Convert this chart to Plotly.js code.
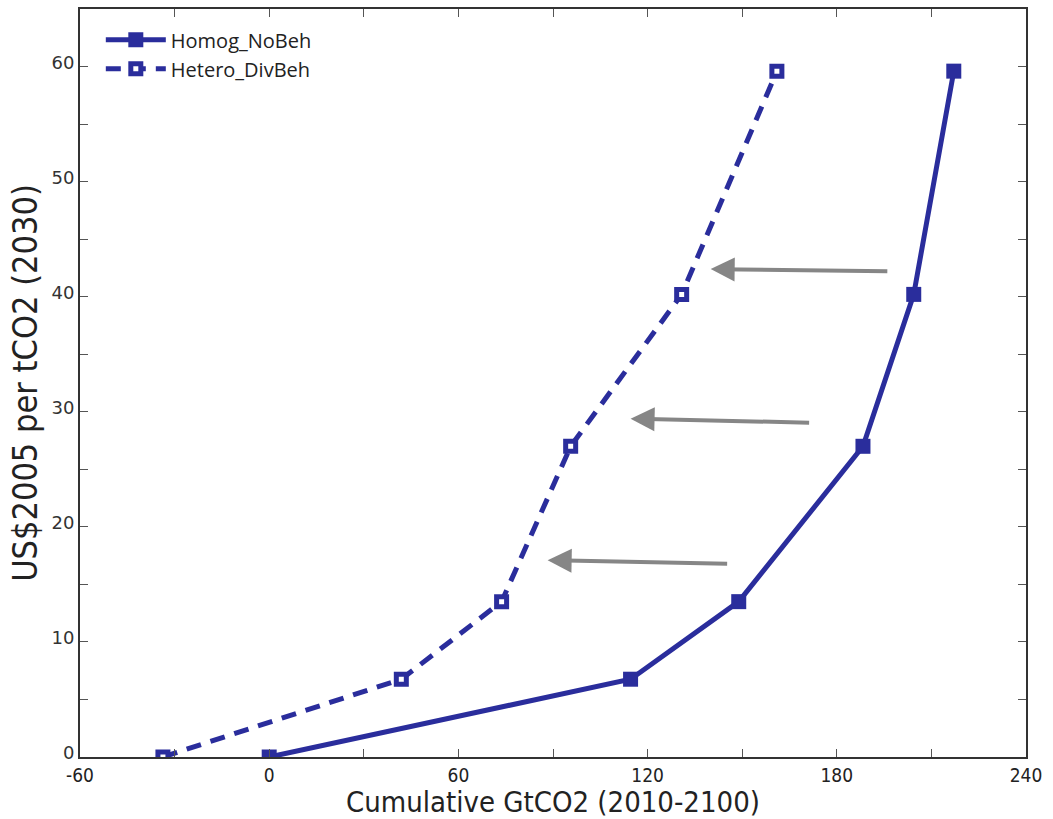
<!DOCTYPE html>
<html>
<head>
<meta charset="utf-8">
<script src="https://cdn.plot.ly/plotly-3.0.1.min.js"></script>
<style>html,body{margin:0;padding:0;background:#fff;}#chart{width:1053px;height:819px;}</style>
</head>
<body>
<div id="chart"></div>
<script>
// Data
const homogX = [0, 114.6, 148.9, 188.3, 204.4, 217.1];
const homogY = [0, 6.76, 13.5, 27.0, 40.2, 59.6];
const heteroX = [-33.7, 41.9, 73.7, 95.6, 130.8, 161.0];
const heteroY = [0, 6.76, 13.5, 27.0, 40.2, 59.6];
const xTickVals = [-60, 0, 60, 120, 180, 240];
const yTickVals = [0, 10, 20, 30, 40, 50, 60];
// Arrows: [tailX, tailY, headX, headY]
const arrows = [
  [196.5, 42.2, 140.0, 42.4],
  [171.7, 29.05, 114.6, 29.4],
  [145.7, 16.8, 88.3, 17.1]
];

const blue = '#2a2d9c';
const condensed = '"Liberation Sans Narrow", "DejaVu Sans Condensed", "Open Sans", sans-serif';

const traces = [
  {
    x: homogX, y: homogY, name: 'Homog_NoBeh', mode: 'lines+markers',
    line: {color: blue, width: 5},
    marker: {symbol: 'square', size: 15, color: blue}
  },
  {
    x: heteroX, y: heteroY, name: 'Hetero_DivBeh', mode: 'lines+markers',
    line: {color: blue, width: 5, dash: '15px,10px'},
    marker: {symbol: 'square', size: 10, color: '#ffffff', line: {color: blue, width: 5}}
  }
];

const annotations = arrows.map(a => ({
  x: a[2], y: a[3], ax: a[0], ay: a[1],
  xref: 'x', yref: 'y', axref: 'x', ayref: 'y',
  text: '', showarrow: true, arrowhead: 2, arrowsize: 1.2, arrowwidth: 4,
  arrowcolor: '#868686'
}));

const layout = {
  width: 1053, height: 819,
  margin: {l: 80, r: 27, t: 9, b: 62},
  paper_bgcolor: '#ffffff', plot_bgcolor: '#ffffff',
  showlegend: true,
  legend: {x: 0.022, y: 0.985, xanchor: 'left', yanchor: 'top', bgcolor: 'rgba(0,0,0,0)',
    font: {family: '"Open Sans", "Liberation Sans", sans-serif', size: 20, color: '#222'},
    tracegroupgap: 0, itemwidth: 60},
  xaxis: {
    range: [-60, 240], tickvals: xTickVals, ticktext: xTickVals.map(String),
    ticks: 'inside', ticklen: 8, tickcolor: '#555', showline: true, linecolor: '#333', linewidth: 2,
    mirror: 'ticks', showgrid: false, zeroline: false,
    minor: {dtick: 30, tick0: 0, ticks: 'inside', ticklen: 8, tickcolor: '#555'},
    tickfont: {family: condensed, size: 19, color: '#222'},
    title: {text: 'Cumulative GtCO2 (2010-2100)', font: {family: condensed, size: 29, color: '#222'}, standoff: 3}
  },
  yaxis: {
    range: [0, 65], tickvals: yTickVals, ticktext: yTickVals.map(String),
    ticks: 'inside', ticklen: 8, tickcolor: '#555', showline: true, linecolor: '#333', linewidth: 2,
    mirror: 'ticks', showgrid: false, zeroline: false,
    minor: {dtick: 5, tick0: 0, ticks: 'inside', ticklen: 8, tickcolor: '#555'},
    tickfont: {family: '"DejaVu Sans", Verdana, sans-serif', size: 18, color: '#333'},
    ticklabelshift: -4,
    title: {text: 'US$2005 per tCO2 (2030)', font: {family: condensed, size: 34, color: '#222'}, standoff: 4}
  },
  annotations: annotations
};

Plotly.newPlot('chart', traces, layout, {displayModeBar: false});
</script>
</body>
</html>
